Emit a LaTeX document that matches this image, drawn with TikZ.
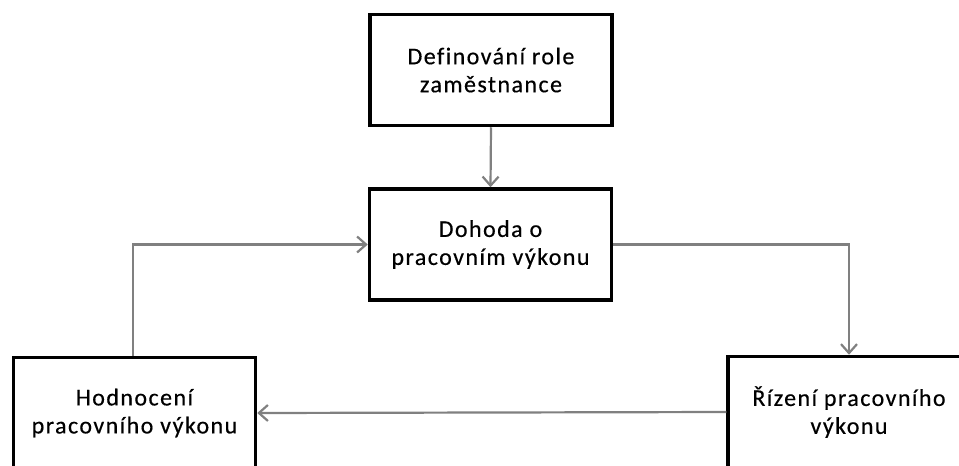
\documentclass[tikz,border=0pt]{standalone}
\usepackage{fontspec}
\setmainfont{Carlito}[LetterSpace=6,FakeBold=0.4,Ligatures=NoCommon]
\usetikzlibrary{arrows.meta}
\tikzset{
  box/.style={draw=black, line width=3.5pt, fill=white, minimum width=242pt, minimum height=111pt,
    inner sep=0pt, align=center, font=\fontsize{24}{28}\selectfont, text=black},
  conn/.style={draw=black!50, line width=2.2pt, -{Straight Barb[length=9pt,width=16pt,line width=2.2pt]}}
}
\begin{document}
\begin{tikzpicture}[x=1pt,y=-1pt]
\clip (0,0) rectangle (959,466);
\fill[white] (0,0) rectangle (959,466);
\node[box] (def) at (491,70) {Definování role\\zaměstnance};
\node[box] (doh) at (490.5,244.5) {Dohoda o\\pracovním výkonu};
\node[box] (hod) at (134.5,413) {Hodnocení\\pracovního výkonu};
\node[box] (riz) at (849,412) {Řízení pracovního\\výkonu};
\draw[conn] (def.south) -- (doh.north);
\draw[conn] (doh.east) -| (riz.north);
\draw[conn] (riz.west) -- (hod.east);
\draw[conn] (hod.north -| 133,0) |- (doh.west);
\end{tikzpicture}
\end{document}
